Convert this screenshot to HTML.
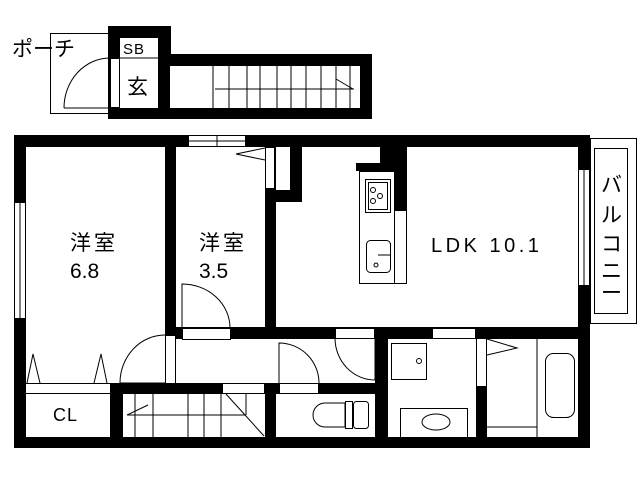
<!DOCTYPE html>
<html><head><meta charset="utf-8"><style>
html,body{margin:0;padding:0;background:#fff;}
svg{display:block;}
text{font-family:"Liberation Sans","Noto Sans CJK JP",sans-serif;fill:#000;}
</style></head><body>
<svg width="640" height="480" viewBox="0 0 640 480" xmlns="http://www.w3.org/2000/svg">
<rect width="640" height="480" fill="#fff"/>
<!-- porch -->
<rect x="50.5" y="33.5" width="60" height="80" fill="none" stroke="#000" stroke-width="1"/>
<text x="12" y="56" font-size="21">ポーチ</text>
<!-- entry/stair black block -->
<rect x="108" y="26" width="63" height="93" fill="#000"/>
<rect x="108" y="54" width="264" height="65" fill="#000"/>
<rect x="120" y="38" width="38" height="70" fill="#fff"/>
<line x1="120" y1="58" x2="158" y2="58" stroke="#000"/>
<text x="123" y="54" font-size="15" letter-spacing="1">SB</text>
<text x="127" y="94" font-size="21">玄</text>
<rect x="110.5" y="58.5" width="9" height="49" fill="#fff" stroke="#000"/>
<path d="M64 108 A46 50 0 0 1 110 58" fill="none" stroke="#000"/>
<line x1="64" y1="108" x2="110" y2="108" stroke="#000"/>
<rect x="170" y="66" width="190" height="42" fill="#fff"/>
<g stroke="#000">
<line x1="213" y1="66" x2="213" y2="108"/><line x1="229" y1="66" x2="229" y2="108"/>
<line x1="247" y1="66" x2="247" y2="108"/><line x1="260" y1="66" x2="260" y2="108"/>
<line x1="277" y1="66" x2="277" y2="108"/><line x1="291" y1="66" x2="291" y2="108"/>
<line x1="306" y1="66" x2="306" y2="108"/><line x1="321" y1="66" x2="321" y2="108"/>
<line x1="336" y1="66" x2="336" y2="108"/><line x1="350" y1="66" x2="350" y2="108"/>
<line x1="215" y1="89" x2="354" y2="89"/><line x1="336" y1="79" x2="353" y2="89"/>
</g>
<!-- main outline -->
<rect x="14" y="135" width="576" height="313" fill="#000"/>
<rect x="26" y="147" width="552" height="290" fill="#fff"/>
<!-- interior walls -->
<g fill="#000">
<rect x="165" y="147" width="11" height="192"/>
<rect x="265" y="147" width="11" height="192"/>
<rect x="290" y="135" width="12" height="67"/>
<rect x="265" y="190" width="37" height="12"/>
<rect x="165" y="327" width="413" height="12"/>
<rect x="380" y="135" width="27" height="75"/>
<rect x="356" y="163" width="26" height="8"/>
<rect x="375" y="327" width="13" height="111"/>
<rect x="110" y="383" width="275" height="11"/>
<rect x="110" y="383" width="13" height="55"/>
<rect x="265" y="383" width="11" height="55"/>
<rect x="476" y="338" width="11" height="100"/>
</g>
<!-- closet strip in 3.5 -->
<rect x="265.5" y="147.5" width="9" height="41" fill="#fff" stroke="#000"/>
<path d="M265 148 L236 154 L265 160" fill="none" stroke="#000"/>
<!-- windows -->
<rect x="188.5" y="135.5" width="57" height="11" fill="#fff" stroke="#000"/>
<line x1="217" y1="135" x2="217" y2="147" stroke="#000"/>
<line x1="188" y1="141" x2="245" y2="141" stroke="#000"/>
<rect x="14.5" y="202.5" width="11" height="116" fill="#fff" stroke="#000"/>
<line x1="20" y1="202" x2="20" y2="318" stroke="#000"/>
<rect x="578.5" y="169.5" width="11" height="116" fill="#fff" stroke="#000"/>
<line x1="584" y1="169" x2="584" y2="286" stroke="#000"/>
<!-- balcony -->
<rect x="590.5" y="138.5" width="46" height="185" fill="#fff" stroke="#000"/>
<rect x="594.5" y="148.5" width="33" height="165" fill="#fff" stroke="#000"/>
<text x="601" y="192" font-size="21">バ</text>
<text x="601" y="222" font-size="21">ル</text>
<text x="601" y="251" font-size="21">コ</text>
<text x="601" y="278" font-size="21">ニ</text>
<text x="601" y="300" font-size="21">ー</text>
<!-- kitchen -->
<rect x="359.5" y="171.5" width="35" height="112" fill="#fff" stroke="#000"/>
<rect x="394.5" y="210.5" width="12" height="73" fill="#fff" stroke="#000"/>
<rect x="365.5" y="179.5" width="25" height="33" fill="#fff" stroke="#000"/>
<rect x="368.5" y="182.5" width="19" height="27" fill="none" stroke="#000"/>
<circle cx="373" cy="190" r="2.5" fill="none" stroke="#000"/>
<circle cx="380" cy="196" r="2.5" fill="none" stroke="#000"/>
<circle cx="373" cy="201" r="2.5" fill="none" stroke="#000"/>
<rect x="366.5" y="240.5" width="24" height="32" rx="4" fill="none" stroke="#000"/>
<line x1="378" y1="255" x2="390" y2="255" stroke="#000"/>
<circle cx="376" cy="265" r="2" fill="none" stroke="#000"/>
<!-- labels -->
<text x="70" y="250" font-size="21" letter-spacing="3">洋室</text>
<text x="70" y="278" font-size="21">6.8</text>
<text x="199" y="250" font-size="21" letter-spacing="3">洋室</text>
<text x="199" y="278" font-size="21">3.5</text>
<text x="431" y="252" font-size="20" letter-spacing="3.5">LDK 10.1</text>
<text x="53" y="421" font-size="18" letter-spacing="1">CL</text>
<!-- 3.5 door -->
<path d="M182 328 L182 284 A48 44 0 0 1 230 328" fill="none" stroke="#000"/>
<!-- CL -->
<rect x="25.5" y="383.5" width="85" height="10" fill="#fff" stroke="#000"/>
<path d="M27 383 L33 354 L40 383 M94 383 L101 354 L107 383" fill="none" stroke="#000"/>
<!-- corridor door -->
<rect x="165.5" y="335.5" width="10" height="48" fill="#fff" stroke="#000"/>
<path d="M120 383 A45 48 0 0 1 165 335" fill="none" stroke="#000"/>
<line x1="120" y1="383" x2="165" y2="383" stroke="#000"/>
<rect x="182.5" y="328.5" width="48" height="11" fill="#fff" stroke="#000"/>
<!-- LDK door -->
<rect x="335.5" y="328.5" width="39" height="10" fill="#fff" stroke="#000"/>
<path d="M335 338 A40 42 0 0 0 375 380" fill="none" stroke="#000"/>
<line x1="375" y1="338" x2="375" y2="380" stroke="#000"/>
<!-- toilet door -->
<rect x="279.5" y="383.5" width="39" height="10" fill="#fff" stroke="#000"/>
<path d="M279 383 L279 343 A40 40 0 0 1 319 383" fill="none" stroke="#000"/>
<!-- lower stairs -->
<rect x="222.5" y="383.5" width="42" height="10" fill="#fff" stroke="#000"/>
<g stroke="#000">
<line x1="135" y1="394" x2="135" y2="437"/><line x1="153" y1="394" x2="153" y2="437"/>
<line x1="188" y1="394" x2="188" y2="437"/><line x1="204" y1="394" x2="204" y2="437"/>
<line x1="221" y1="394" x2="221" y2="437"/><line x1="246" y1="394" x2="246" y2="415"/>
<line x1="127" y1="415" x2="246" y2="415"/><line x1="127" y1="415" x2="148" y2="405"/>
<line x1="226" y1="394" x2="264" y2="436"/>
</g>
<!-- toilet -->
<path d="M345 403 L325 403 A12 12 0 0 0 325 427 L345 427 Z" fill="#fff" stroke="#000"/>
<rect x="345.5" y="401.5" width="7" height="27" fill="#fff" stroke="#000"/>
<rect x="353.5" y="401.5" width="15" height="27" rx="3" fill="#fff" stroke="#000"/>
<!-- bath area -->
<rect x="432.5" y="328.5" width="43" height="10" fill="#fff" stroke="#000"/>
<rect x="391.5" y="343.5" width="35" height="36" fill="#fff" stroke="#000"/>
<circle cx="419" cy="361" r="2.5" fill="none" stroke="#000"/>
<rect x="400.5" y="408.5" width="67" height="29" fill="#fff" stroke="#000"/>
<ellipse cx="436" cy="422" rx="14" ry="8" fill="none" stroke="#000"/>
<rect x="476.5" y="338.5" width="10" height="48" fill="#fff" stroke="#000"/>
<path d="M487 339 L517 348 L487 355" fill="none" stroke="#000"/>
<line x1="537" y1="338" x2="537" y2="437" stroke="#000"/>
<line x1="487" y1="427" x2="537" y2="427" stroke="#000"/>
<rect x="545.5" y="353.5" width="29" height="64" rx="8" fill="none" stroke="#000"/>
</svg>
</body></html>
